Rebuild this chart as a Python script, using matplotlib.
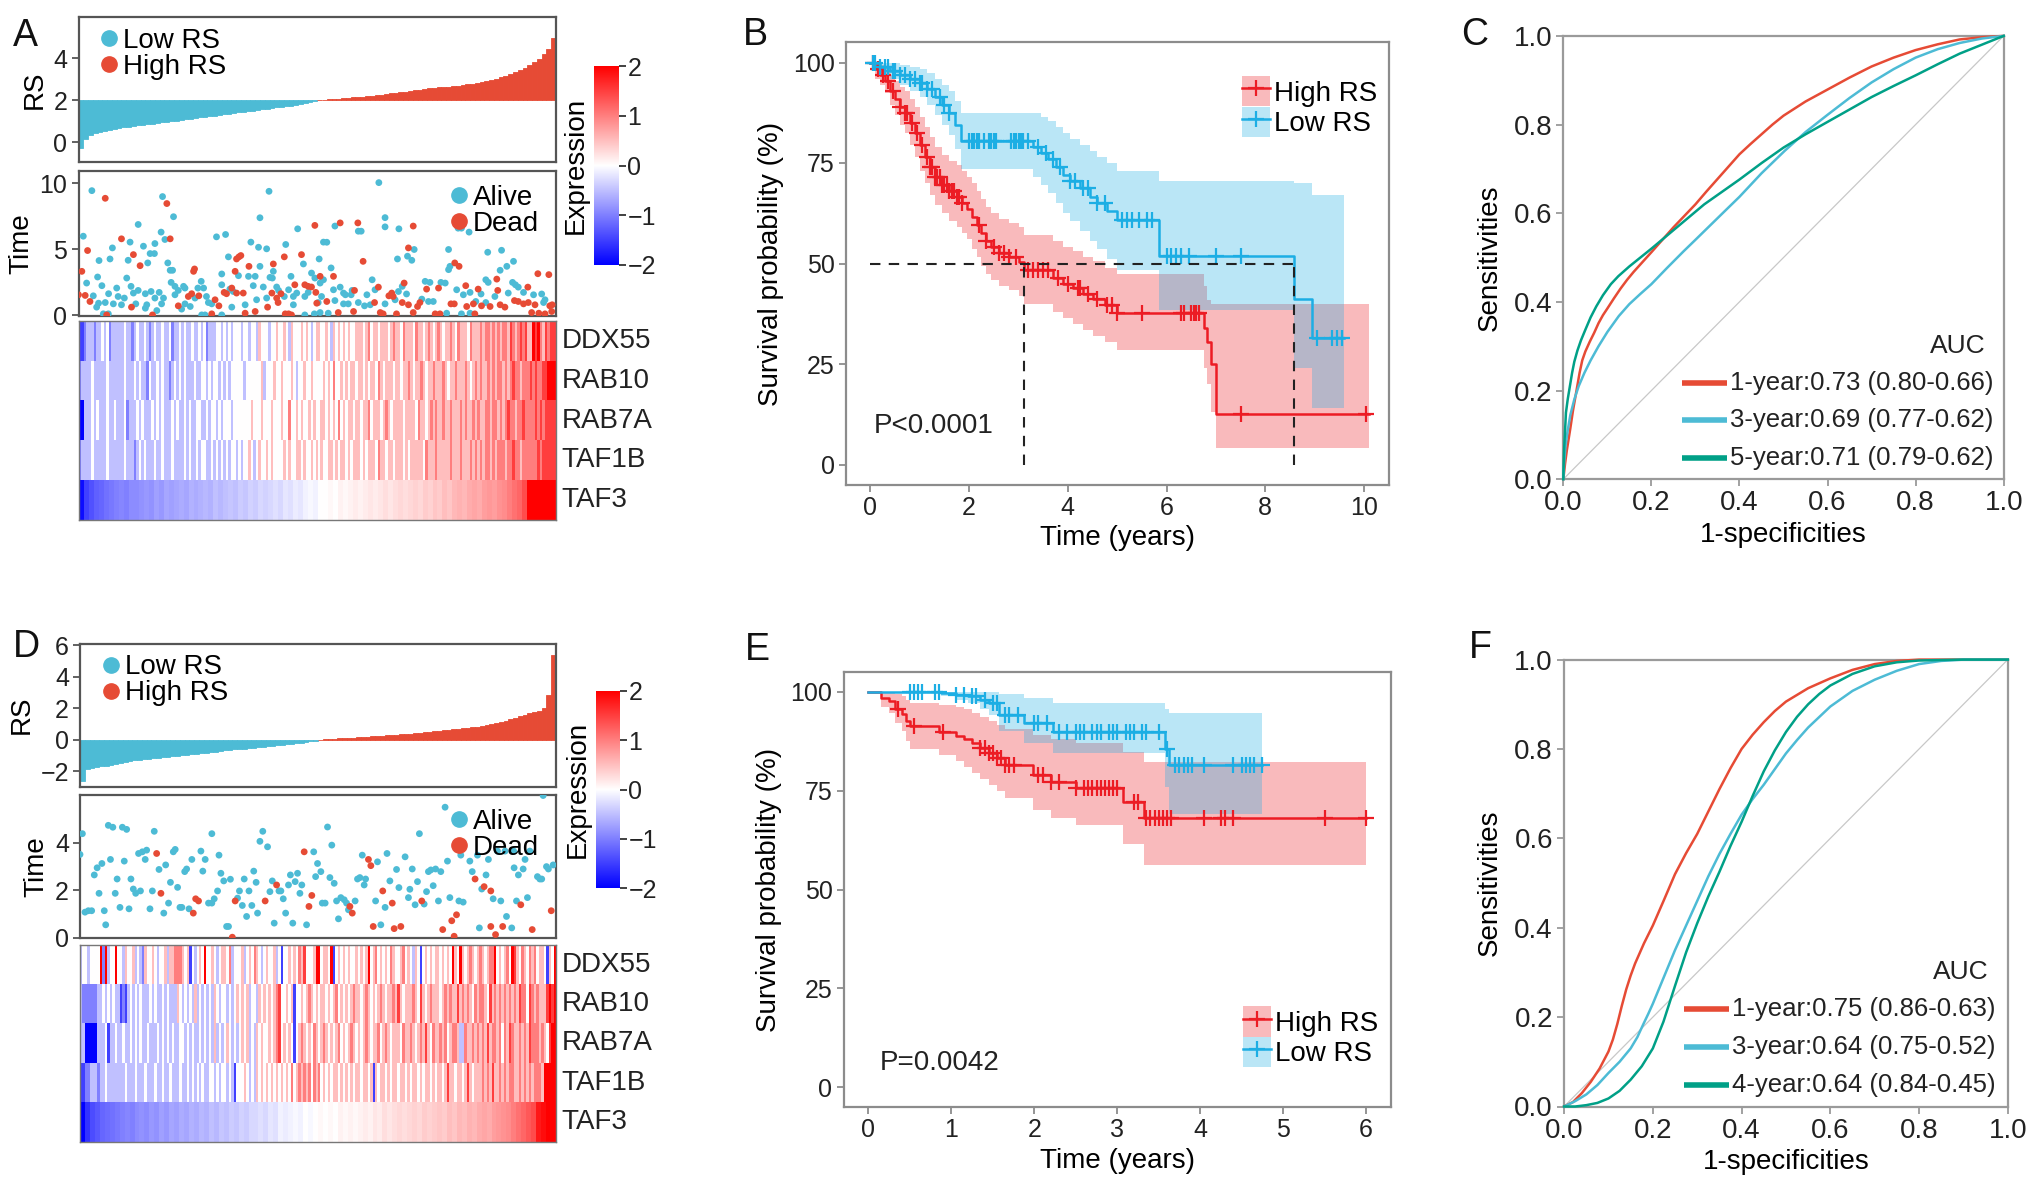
import numpy as np
import matplotlib
matplotlib.use("Agg")
import matplotlib.pyplot as plt
from matplotlib.colors import LinearSegmentedColormap
from matplotlib.patches import Patch
from matplotlib.lines import Line2D

plt.rcParams['font.family'] = ['Liberation Sans', 'DejaVu Sans']

# ======================= DATA =======================
genes = ["DDX55", "RAB10", "RAB7A", "TAF1B", "TAF3"]

# sorted risk scores (panel A: cut-off 2, panel D: cut-off 0)
rs_A = [-0.3, 0.15, 0.35, 0.45, 0.5, 0.55, 0.6, 0.63, 0.67, 0.7,
        0.73, 0.76, 0.8, 0.83, 0.86, 0.89, 0.92, 0.95, 0.98, 1.0,
        1.03, 1.06, 1.09, 1.12, 1.15, 1.18, 1.21, 1.24, 1.27, 1.3,
        1.33, 1.36, 1.39, 1.42, 1.45, 1.48, 1.51, 1.54, 1.57, 1.6,
        1.63, 1.66, 1.69, 1.72, 1.75, 1.78, 1.82, 1.86, 1.9, 1.95,
        2.0, 2.02, 2.04, 2.06, 2.08, 2.1, 2.12, 2.14, 2.16, 2.18,
        2.2, 2.22, 2.24, 2.27, 2.3, 2.33, 2.36, 2.39, 2.42, 2.45,
        2.48, 2.51, 2.54, 2.57, 2.6, 2.62, 2.64, 2.66, 2.68, 2.7,
        2.73, 2.76, 2.8, 2.84, 2.88, 2.92, 2.97, 3.03, 3.1, 3.18,
        3.26, 3.34, 3.44, 3.55, 3.68, 3.82, 3.98, 4.2, 4.45, 5.0]
rs_D = [-2.6, -1.9, -1.8, -1.75, -1.7, -1.67, -1.63, -1.58, -1.5, -1.42,
        -1.36, -1.31, -1.27, -1.24, -1.21, -1.18, -1.15, -1.12, -1.09, -1.05,
        -1.02, -0.99, -0.96, -0.93, -0.9, -0.87, -0.84, -0.81, -0.77, -0.73,
        -0.69, -0.66, -0.63, -0.6, -0.57, -0.54, -0.51, -0.48, -0.45, -0.42,
        -0.39, -0.36, -0.33, -0.3, -0.27, -0.24, -0.2, -0.16, -0.12, -0.07,
        -0.02, 0.01, 0.03, 0.05, 0.07, 0.09, 0.11, 0.13, 0.15, 0.17,
        0.19, 0.21, 0.23, 0.25, 0.27, 0.29, 0.31, 0.33, 0.35, 0.38,
        0.41, 0.44, 0.47, 0.5, 0.53, 0.56, 0.59, 0.62, 0.65, 0.68,
        0.71, 0.74, 0.78, 0.82, 0.86, 0.91, 0.97, 1.04, 1.12, 1.2,
        1.3, 1.4, 1.5, 1.58, 1.66, 1.74, 1.82, 2.0, 2.8, 5.4]

# survival status scatter: (patient rank percentile, time in years)
A_alive = [(12.5,6.88),(19.9,7.47),(38.0,7.39),(45.9,6.55),(1.0,5.99),(10.8,5.54),(17.3,6.3),(18.1,5.74),(28.9,5.94),(30.8,6.12),
           (36.1,5.54),(7.1,5.1),(13.6,5.23),(16.0,5.43),(37.7,5.15),(39.4,5.03),(43.4,5.36),(51.3,5.54),(15.0,4.67),(15.9,4.67),
           (4.3,4.14),(6.6,4.26),(10.4,4.16),(14.5,3.96),(18.7,3.96),(31.4,4.42),(47.1,3.88),(38.0,3.7),(19.2,3.4),(19.7,3.4),
           (30.0,3.12),(33.5,2.99),(40.8,3.32),(4.0,2.89),(10.1,2.81),(35.6,2.94),(37.0,2.94),(40.1,2.86),(40.6,2.81),(44.5,2.94),
           (48.8,3.19),(49.5,2.81),(1.7,2.43),(4.9,2.23),(11.0,2.18),(25.7,2.56),(19.4,2.48),(20.2,2.18),(22.0,2.18),(20.9,1.87),
           (30.0,2.3),(36.6,2.23),(38.7,2.13),(41.5,2.13),(8.0,2.05),(12.5,1.87),(15.2,1.79),(16.9,1.72),(22.3,2.05),(25.0,2.05),
           (26.2,2.05),(31.7,1.97),(32.4,1.79),(41.9,1.87),(44.0,1.92),(45.7,1.67),(48.1,1.72),(3.1,1.46),(6.3,1.62),(8.3,1.41),
           (9.6,1.29),(11.5,1.67),(14.0,1.62),(16.0,1.29),(17.8,1.29),(20.2,1.54),(24.4,1.29),(26.8,1.41),(37.3,1.16),(39.4,1.29),
           (43.1,1.41),(45.0,1.41),(47.4,1.41),(50.9,1.41),(4.2,0.9),(5.6,0.95),(7.3,0.85),(9.0,0.78),(12.0,0.85),(14.3,0.78),
           (17.4,0.85),(22.3,0.85),(23.4,0.65),(27.2,0.95),(27.9,0.85),(32.1,0.6),(34.9,0.78),(45.0,0.78),(3.8,0.6),(14.0,0.52),
           (16.4,0.34),(21.6,0.45),(25.8,0.01),(26.5,0.01),(30.0,0.01),(47.4,0.01),(49.4,0.09),(50.6,0.19),(6.25,0.09),(5.2,0.09),
           (2.8,9.45),(17.6,9.0),(39.9,9.4),(62.9,10.06),(64.2,7.4),
           (53.7,6.76),(58.6,6.37),(59.2,6.37),(64.2,6.7),(67.1,6.55),(79.5,6.6),(80.2,6.6),(81.8,6.3),(52.0,5.53),(50.4,4.26),
           (70.3,4.98),(66.8,4.26),(68.9,4.47),(69.8,4.16),(77.5,4.98),(85.7,4.77),(88.6,4.92),(91.1,4.08),(77.8,3.7),(77.5,3.45),
           (52.9,3.58),(89.7,3.7),(88.3,3.4),(51.3,2.68),(50.6,2.43),(61.5,2.68),(67.8,2.18),(62.1,1.92),(54.8,2.12),(53.4,1.92),
           (57.3,1.87),(55.5,1.67),(55.9,1.54),(57.1,1.54),(60.4,1.54),(67.0,1.79),(68.7,1.6),(72.6,2.56),(73.6,2.48),(75.9,2.48),
           (76.8,2.43),(79.2,1.92),(80.6,1.54),(82.0,1.72),(84.3,1.6),(85.3,2.68),(85.8,2.48),(87.2,1.41),(90.0,1.67),(90.9,2.48),
           (91.5,2.3),(92.1,2.12),(93.2,1.72),(95.3,1.54),(97.0,1.6),(97.7,1.16),(50.2,0.95),(53.7,1.1),(55.5,0.85),(56.5,0.85),
           (58.6,0.95),(59.9,0.7),(61.1,0.78),(64.2,0.85),(66.3,1.16),(71.9,1.21),(73.3,1.03),(74.3,1.03),(83.2,1.03),(85.3,0.95),
           (97.4,0.95),(52.3,0.14),(77.1,0.14),(80.2,0.09),(82.0,0.14)]
A_dead = [(49.5,6.81),(9.0,5.79),(19.2,5.79),(1.9,4.9),(11.5,4.59),(12.9,3.75),(33.1,4.26),(33.6,4.42),(34.0,4.52),(43.1,4.42),
          (46.7,4.59),(40.8,3.88),(35.7,3.7),(0.7,3.32),(24.3,3.5),(24.1,3.32),(32.8,3.32),(45.3,2.3),(47.4,2.3),(48.1,2.18),
          (48.8,2.13),(32.1,2.05),(34.5,1.67),(40.5,1.67),(42.4,1.62),(49.7,1.72),(0.0,1.54),(1.4,1.49),(23.0,1.41),(23.7,1.62),
          (25.2,1.46),(28.6,1.16),(31.0,1.62),(33.1,1.67),(30.5,1.72),(41.5,1.29),(2.4,1.03),(20.9,0.7),(29.4,0.7),(39.6,0.6),
          (41.8,0.95),(49.9,0.9),(11.1,0.6),(27.9,0.09),(34.9,0.14),(37.0,0.27),(43.3,0.09),(44.0,0.09),(44.6,0.01),(5.9,0.01),
          (15.5,0.01),(5.6,8.87),(18.5,8.47),
          (54.8,7.0),(58.5,7.0),(70.1,6.76),(69.1,5.1),(59.6,4.08),(78.8,3.96),(79.7,3.7),(50.6,2.94),(53.4,2.94),(68.2,2.43),
          (62.8,2.12),(57.8,1.87),(65.6,1.67),(65.0,1.46),(65.9,1.41),(72.9,1.97),(75.4,2.05),(81.1,2.23),(83.7,1.97),(87.6,2.73),
          (87.8,1.87),(94.1,2.12),(96.2,3.14),(98.5,3.07),(52.0,1.03),(62.0,0.95),(67.8,0.95),(69.1,0.78),(71.5,0.95),(78.0,0.85),
          (78.7,0.85),(81.3,0.65),(82.7,0.85),(84.4,0.7),(86.2,0.65),(88.3,0.78),(89.3,0.6),(91.3,1.1),(92.1,1.03),(93.2,0.85),
          (94.2,0.95),(95.6,0.78),(98.7,0.7),(54.4,0.19),(57.6,0.27),(63.2,0.19),(63.8,0.09),(66.6,0.09),(70.1,0.19),(71.0,0.65),
          (74.7,0.09),(75.7,0.09),(83.0,0.09),(94.9,0.19),(96.4,0.14),(97.7,0.09),(99.1,0.27),(99.2,0.78)]
D_alive = [(0.5,4.37),(0.0,3.5),(5.95,4.72),(6.9,4.64),(8.9,4.64),(9.8,4.55),(15.6,4.47),(27.7,4.37),(38.4,4.47),(37.8,4.05),
           (39.4,3.82),(12.3,3.54),(13.1,3.61),(14.0,3.68),(13.7,3.29),(19.6,3.61),(20.0,3.71),(25.4,3.64),(29.2,3.47),(26.3,3.29),
           (23.5,3.29),(49.1,3.61),(6.4,3.29),(9.3,3.22),(4.6,3.12),(3.6,2.94),(3.0,2.64),(16.6,2.87),(18.0,3.06),(22.0,2.78),
           (22.4,2.89),(25.8,2.8),(29.6,2.71),(36.5,2.8),(49.5,2.57),(50.6,2.78),(49.9,3.12),(7.8,2.47),(10.7,2.47),(19.0,2.33),
           (20.5,2.12),(30.2,2.39),(31.6,2.46),(34.5,2.47),(37.0,2.33),(40.4,2.39),(44.2,2.64),(45.7,2.71),(45.2,2.36),(43.8,2.22),
           (46.6,2.22),(4.0,1.87),(7.4,1.87),(11.2,2.05),(11.7,1.87),(12.7,1.97),(15.2,1.97),(28.9,1.97),(33.5,1.97),(35.5,1.97),
           (39.9,1.94),(41.8,1.97),(42.2,1.97),(46.2,1.87),(42.7,1.64),(33.1,1.67),(18.6,1.46),(27.0,1.46),(27.7,1.46),(28.2,1.64),
           (34.1,1.36),(36.1,1.36),(50.9,1.46),(1.05,1.08),(1.75,1.14),(2.45,1.14),(5.1,1.14),(8.4,1.28),(10.3,1.22),(14.7,1.22),
           (21.0,1.28),(21.4,1.28),(22.9,1.22),(17.6,1.04),(37.3,1.04),(35.0,0.9),(43.2,1.04),(5.4,0.55),(40.8,0.62),(44.7,0.62),
           (47.6,0.55),(30.8,0.48),(31.2,0.48),
           (97.3,5.97),(76.7,5.48),(52.0,4.65),(71.3,4.37),(52.9,3.89),(59.3,3.47),(62.5,3.19),(64.5,3.54),(68.3,3.4),(66.5,2.87),
           (69.8,2.89),(73.2,2.78),(73.7,2.85),(74.7,2.89),(75.8,2.78),(77.2,3.22),(80.0,3.47),(81.9,3.22),(83.5,3.47),(85.8,3.29),
           (87.7,3.64),(89.3,3.64),(91.1,3.64),(93.5,3.29),(94.5,3.64),(98.0,2.99),(98.4,2.89),(99.4,3.06),(91.2,2.94),(93.1,2.89),
           (92.1,2.64),(96.1,2.57),(96.6,2.47),(97.0,2.47),(82.4,2.78),(85.3,2.64),(84.4,2.05),(86.8,1.64),(88.4,1.55),(91.7,1.55),
           (94.0,1.69),(52.5,2.53),(53.4,2.29),(58.3,2.47),(58.8,2.53),(60.0,2.47),(59.7,2.22),(65.1,2.39),(67.0,2.11),(69.3,2.04),
           (70.9,2.36),(72.8,1.94),(74.2,2.19),(51.5,1.46),(53.9,1.55),(54.8,1.69),(55.5,1.6),(56.0,1.46),(57.8,1.55),(62.1,1.55),
           (64.1,1.28),(69.0,1.69),(70.4,1.39),(72.3,1.42),(75.3,1.55),(77.7,1.69),(79.6,1.55),(80.5,1.5),(56.4,1.18),(54.3,0.8),
           (89.6,0.9),(63.2,0.55),(83.9,0.42),(90.7,0.42)]
D_dead = [(16.1,3.54),(47.1,3.61),(41.3,2.22),(17.0,1.87),(48.7,1.78),(24.3,1.64),(24.9,1.55),(32.6,1.55),(38.9,1.55),(23.8,1.04),
          (48.1,1.32),(32.0,0.03),
          (60.6,3.29),(61.1,3.03),(83.0,2.47),(84.9,2.15),(86.3,1.97),(92.6,1.39),(63.6,1.97),(65.6,1.46),(71.8,1.55),(56.7,1.32),
          (57.2,1.04),(79.1,0.97),(78.1,0.72),(99.0,1.14),(61.6,0.48),(66.0,0.39),(67.4,0.48),(76.2,0.35),(78.6,0.07),(86.3,0.48),
          (87.3,0.14),(88.8,0.48),(95.0,0.35)]

# heatmap expression, 192 column bins per gene; digit d -> (d-4)/2
heat_A = {
    "DDX55": "1123332334342333" "3343323433432343" "3433423343433433" "4342333443434344"
             "4344344354443445" "4454354445454345" "5445435454545445" "5545645545554565"
             "5465554655456545" "6545565465554655" "5656656565665765" "6767558786576777",
    "RAB10": "2333343333343333" "3343334343324334" "3433234343433343" "3443434434343444"
             "4434444445344454" "4544454344544544" "4454546445454554" "5545455465455545"
             "5455654556545565" "5565455655565456" "5655656566565676" "6566676766778888",
    "RAB7A": "0033343433343343" "3342333434333434" "3433343433434334" "4334344343444344"
             "4444454445444544" "4544644545445454" "4554545464545545" "5455645554565455"
             "5545555465545656" "5565565556565565" "6556656656567665" "6676666767677777",
    "TAF1B": "2333343333343333" "3343332343433343" "3433343333434334" "3443343434343443"
             "4344543454454544" "4454544554544545" "4544554545545455" "5454555465545545"
             "5545455555465556" "5555565556555656" "5656656566656676" "6566666676777777",
}
taf3_A = [-1.9, -1.5, -1.35, -1.25, -1.2, -1.1, -1.05, -1.0, -0.95, -1.0, -0.9, -0.9, -0.85, -0.8, -0.85, -0.75,
          -0.8, -0.7, -0.75, -0.7, -0.65, -0.7, -0.6, -0.65, -0.6, -0.55, -0.6, -0.5, -0.55, -0.5, -0.45, -0.5,
          -0.4, -0.45, -0.35, -0.4, -0.3, -0.35, -0.3, -0.25, -0.3, -0.2, -0.25, -0.15, -0.2, -0.1, -0.05, -0.1,
          0.0, 0.0, 0.05, 0.0, 0.1, 0.05, 0.1, 0.15, 0.1, 0.15, 0.2, 0.15, 0.2, 0.25, 0.2, 0.25,
          0.3, 0.25, 0.3, 0.35, 0.3, 0.4, 0.35, 0.45, 0.4, 0.5, 0.45, 0.55, 0.6, 0.55, 0.65, 0.7,
          0.65, 0.75, 0.8, 0.75, 0.85, 0.9, 1.0, 1.1, 1.2, 1.4, 2.0, 2.0, 2.0, 2.0, 2.0, 2.0]
heat_D = {
    "DDX55": "3443444482834484" "4354453432544543" "4453556665451434" "5484454345546344"
             "4534546543454453" "4144545465744458" "8455481454545445" "4545845645454654"
             "4564543541454545" "5454548548545654" "5654566845456487" "5465465645541548",
    "RAB10": "3222222334343433" "1213434343334343" "3434333543434353" "4343435434434345"
             "4545344354545456" "7445451445456545" "4554545645454565" "5456545456545565"
             "7545556547545655" "5456565575656546" "5665475656565656" "5766476565557878",
    "RAB7A": "3300000333413343" "3433434343343334" "3434343344343433" "4343435343454343"
             "4545343545445456" "7454541456545465" "4565454564545654" "5456545564565455"
             "5465565456575465" "5656456653365565" "6565756656465765" "5656576665654788",
    "TAF1B": "1122333233433333" "3343334333433343" "3433433343343434" "3433443434434314"
             "4454343545454545" "4545464565656465" "6454545545454545" "5455451545545455"
             "4554545545455454" "5545755455457545" "5565657556565665" "5656565666588888",
}
taf3_D = [-2.0, -1.6, -1.4, -1.3, -1.2, -1.15, -1.1, -1.05, -1.0, -0.95, -1.0, -0.9, -0.85, -0.9, -0.8, -0.85,
          -0.75, -0.8, -0.7, -0.75, -0.65, -0.7, -0.6, -0.65, -0.55, -0.6, -0.5, -0.55, -0.45, -0.5, -0.4, -0.45,
          -0.35, -0.4, -0.3, -0.3, -0.25, -0.3, -0.2, -0.25, -0.1, -0.15, -0.1, -0.05, -0.1, 0.0, -0.05, 0.0,
          0.05, 0.0, 0.05, 0.0, 0.1, 0.05, 0.1, 0.05, 0.1, 0.15, 0.1, 0.2, 0.15, 0.25, 0.2, 0.25,
          0.3, 0.25, 0.3, 0.35, 0.3, 0.4, 0.35, 0.4, 0.45, 0.4, 0.5, 0.45, 0.55, 0.5, 0.6, 0.55,
          0.65, 0.7, 0.65, 0.75, 0.8, 0.85, 0.9, 1.0, 1.1, 1.2, 1.3, 1.4, 1.8, 1.9, 2.0, 2.0]

# Kaplan-Meier (panel B)
hiB_t = [0, 0.1, 0.2, 0.3, 0.4, 0.5, 0.6, 0.7, 0.8, 0.9, 1.0, 1.1, 1.2, 1.3, 1.45, 1.6, 1.75, 1.85, 1.95, 2.05,
         2.15, 2.25, 2.35, 2.45, 2.6, 2.8, 3.0, 3.12, 3.7, 3.9, 4.1, 4.3, 4.5, 4.75, 5.0, 6.75, 6.82, 6.9, 7.0]
hiB_s = [100, 98.5, 97, 95.5, 93, 91, 89, 87.5, 85, 82.5, 79.5, 76.5, 74, 71.5, 69.5, 68, 66.5, 65, 63.5, 61.5,
         59.5, 57.5, 55.5, 54, 52.5, 51.5, 50.3, 48.3, 46.5, 45, 43.8, 42.5, 41.2, 39.8, 37.8, 34, 30.5, 25, 12.5]
hiB_lo = [100, 96, 94.5, 92.5, 89.5, 87, 84.5, 82.5, 79.5, 76.5, 73, 70, 67, 64.5, 62.5, 60.5, 59, 57.5, 56, 53.5,
          51.5, 49.5, 47.5, 46, 44.5, 43.5, 42, 40, 38, 36.5, 35, 33.5, 32, 30.5, 28.5, 24, 20, 13, 4]
hiB_up = [100, 100, 99.5, 98.5, 97, 95.5, 94, 93, 91, 89, 86.5, 84, 81.5, 79, 77, 75.5, 74.5, 73, 71.5, 70,
          68, 66, 64, 62.5, 61, 60, 59, 57, 55.5, 54, 53, 51.5, 50.5, 49, 47.5, 44.5, 41, 40, 40]
hiB_end = 10.1
hiB_cens = [0.05, 0.15, 0.25, 0.35, 0.45, 0.6, 0.7, 0.75, 0.85, 0.95, 1.05, 1.15, 1.2, 1.25, 1.3, 1.35, 1.4, 1.45,
            1.5, 1.55, 1.6, 1.65, 1.7, 1.75, 1.8, 1.85, 2.2, 2.35, 2.5, 2.6, 2.7, 2.8, 2.95, 3.2, 3.3, 3.4, 3.5,
            3.6, 3.8, 4.0, 4.2, 4.25, 4.4, 4.6, 4.8, 4.9, 5.0, 5.5, 6.3, 6.35, 6.5, 6.55, 6.6, 6.65, 7.5, 10.05]
loB_t = [0, 0.2, 0.4, 0.6, 0.8, 1.0, 1.15, 1.3, 1.45, 1.6, 1.72, 1.83, 3.3, 3.45, 3.6, 3.75, 3.9, 4.05, 4.25,
         4.45, 4.6, 4.8, 5.0, 5.85, 8.58, 8.95]
loB_s = [100, 99, 98, 97, 96, 95, 93.5, 91.5, 89.5, 87.5, 84.5, 80.5, 79, 77.5, 76, 74, 72, 70.5, 68.8,
         66.5, 65, 63, 60.8, 51.9, 41.2, 31.4]
loB_lo = [100, 97.5, 96, 94.5, 93, 91.5, 89.5, 87, 84.5, 82, 78.5, 73.5, 71.5, 69.5, 67.5, 65, 62.5, 60.5, 58,
          55.5, 53.5, 51, 48.5, 38.5, 24, 14]
loB_up = [100, 100, 100, 99.5, 99, 98.5, 97.5, 96, 94.5, 93, 90.5, 87.5, 87.5, 86.5, 85.5, 84, 82.5, 81, 79.5,
          78, 76.5, 75, 73, 70.5, 70, 67]
loB_end = 9.6
loB_cens = [0.05, 0.1, 0.2, 0.3, 0.35, 0.45, 0.5, 0.6, 0.7, 0.8, 0.9, 1.0, 1.05, 1.15, 1.25, 1.4, 1.5, 1.6, 2.0,
            2.05, 2.1, 2.15, 2.2, 2.3, 2.4, 2.45, 2.5, 2.55, 2.85, 2.9, 2.95, 3.0, 3.05, 3.1, 3.2, 3.4, 3.55, 3.7,
            3.85, 4.05, 4.15, 4.3, 4.4, 4.6, 4.75, 5.1, 5.2, 5.3, 5.45, 5.6, 5.7, 6.0, 6.1, 6.2, 6.3, 6.45, 7.0,
            7.5, 9.05, 9.35, 9.45, 9.55]
median_hiB = 3.12
median_loB = 8.58

# Kaplan-Meier (panel E)
hiE_t = [0, 0.15, 0.25, 0.32, 0.4, 0.45, 0.5, 0.85, 1.05, 1.15, 1.25, 1.35, 1.45, 1.55, 1.65, 1.98, 2.2, 2.5, 3.07, 3.32]
hiE_s = [100, 98.5, 97.5, 95.7, 94.4, 92.5, 91.2, 89.8, 88.9, 88, 87, 85.7, 84.6, 83.3, 81.5, 78.9, 77.1, 75.7, 72.1, 68]
hiE_lo = [100, 96, 94.5, 92, 90, 87.5, 85.5, 84, 82.5, 81, 79.5, 78, 76.5, 75, 73, 70, 68, 66.2, 61.6, 56.2]
hiE_up = [100, 100, 100, 99.5, 98.8, 98, 97.2, 96.5, 96, 95.5, 94.5, 93.5, 92.5, 91.5, 90.5, 89, 88, 87, 84.8, 82.1]
hiE_end = 6.0
hiE_cens = [0.35, 0.55, 0.9, 1.35, 1.4, 1.45, 1.5, 1.55, 1.6, 1.65, 1.7, 1.75, 2.05, 2.1, 2.2, 2.3, 2.5, 2.6, 2.65,
            2.7, 2.75, 2.8, 2.85, 2.9, 2.95, 3.0, 3.2, 3.25, 3.35, 3.4, 3.45, 3.5, 3.55, 3.6, 3.65, 4.05, 4.25,
            4.3, 4.4, 5.5, 6.0]
loE_t = [0, 0.88, 1.05, 1.2, 1.35, 1.45, 1.58, 1.88, 2.23, 3.57, 3.63]
loE_s = [100, 99.6, 99.2, 98.8, 98, 97, 94, 92, 89.8, 85.5, 81.5]
loE_lo = [100, 98.8, 98, 97, 95.5, 94, 90, 87, 84.5, 76, 69]
loE_up = [100, 100, 100, 100, 100, 100, 99.5, 98.5, 97, 95.5, 94.5]
loE_end = 4.75
loE_cens = [0.5, 0.55, 0.6, 0.65, 0.8, 0.85, 1.05, 1.15, 1.25, 1.3, 1.4, 1.5, 1.55, 1.65, 1.7, 1.8, 2.0, 2.05,
            2.15, 2.3, 2.4, 2.5, 2.55, 2.6, 2.7, 2.75, 2.8, 2.9, 2.95, 3.0, 3.1, 3.15, 3.2, 3.3, 3.35, 3.5, 3.6,
            3.7, 3.75, 3.8, 3.85, 3.9, 4.05, 4.4, 4.5, 4.55, 4.6, 4.65, 4.75]

# ROC curves (panel C)
rocC_1_fpr = [0, 0.004, 0.008, 0.012, 0.016, 0.022, 0.03, 0.037, 0.043, 0.05, 0.06, 0.07, 0.08, 0.09, 0.1, 0.115,
              0.13, 0.145, 0.16, 0.18, 0.2, 0.225, 0.25, 0.275, 0.3, 0.325, 0.35, 0.375, 0.4, 0.425, 0.45, 0.475,
              0.5, 0.55, 0.6, 0.65, 0.7, 0.75, 0.8, 0.85, 0.9, 0.95, 1.0]
rocC_1_tpr = [0, 0.035, 0.065, 0.09, 0.115, 0.155, 0.2, 0.24, 0.268, 0.288, 0.31, 0.33, 0.352, 0.37, 0.385, 0.408,
              0.43, 0.45, 0.468, 0.49, 0.512, 0.54, 0.568, 0.594, 0.62, 0.649, 0.677, 0.705, 0.733, 0.756, 0.778, 0.8,
              0.82, 0.852, 0.879, 0.906, 0.931, 0.951, 0.968, 0.981, 0.992, 0.997, 1.0]
rocC_3_fpr = [0, 0.002, 0.005, 0.01, 0.016, 0.025, 0.035, 0.048, 0.062, 0.08, 0.1, 0.126, 0.15, 0.175, 0.2, 0.235,
              0.273, 0.3, 0.335, 0.37, 0.4, 0.45, 0.503, 0.55, 0.6, 0.65, 0.7, 0.75, 0.8, 0.85, 0.9, 0.95, 1.0]
rocC_3_tpr = [0, 0.04, 0.075, 0.11, 0.145, 0.18, 0.21, 0.24, 0.268, 0.3, 0.332, 0.368, 0.395, 0.418, 0.44, 0.476,
              0.514, 0.54, 0.574, 0.608, 0.637, 0.69, 0.741, 0.783, 0.822, 0.86, 0.895, 0.925, 0.951, 0.97, 0.984,
              0.994, 1.0]
rocC_5_fpr = [0, 0.001, 0.002, 0.004, 0.006, 0.01, 0.015, 0.02, 0.025, 0.032, 0.04, 0.05, 0.062, 0.075, 0.09, 0.108,
              0.125, 0.15, 0.175, 0.2, 0.23, 0.26, 0.29, 0.32, 0.36, 0.4, 0.45, 0.5, 0.55, 0.6, 0.65, 0.7, 0.75,
              0.8, 0.85, 0.9, 0.95, 1.0]
rocC_5_tpr = [0, 0.04, 0.07, 0.11, 0.15, 0.18, 0.21, 0.24, 0.265, 0.29, 0.313, 0.337, 0.365, 0.39, 0.415, 0.44,
              0.458, 0.48, 0.5, 0.52, 0.545, 0.57, 0.595, 0.62, 0.648, 0.676, 0.713, 0.748, 0.778, 0.806, 0.834,
              0.862, 0.887, 0.911, 0.936, 0.96, 0.98, 1.0]
aucC_labels = ["1-year:0.73 (0.80-0.66)", "3-year:0.69 (0.77-0.62)", "5-year:0.71 (0.79-0.62)"]

# ROC curves (panel F)
rocF_1_fpr = [0, 0.02, 0.04, 0.06, 0.08, 0.1, 0.11, 0.12, 0.13, 0.14, 0.15, 0.16, 0.18, 0.2, 0.225, 0.25, 0.275,
              0.3, 0.325, 0.35, 0.375, 0.4, 0.425, 0.45, 0.475, 0.5, 0.55, 0.6, 0.65, 0.7, 0.75, 0.8, 0.9, 1.0]
rocF_1_tpr = [0, 0.01, 0.03, 0.055, 0.085, 0.123, 0.15, 0.185, 0.225, 0.262, 0.293, 0.32, 0.365, 0.405, 0.462,
              0.52, 0.567, 0.61, 0.66, 0.71, 0.757, 0.8, 0.832, 0.86, 0.885, 0.906, 0.936, 0.958, 0.977, 0.99,
              0.997, 1.0, 1.0, 1.0]
rocF_3_fpr = [0, 0.025, 0.05, 0.075, 0.1, 0.125, 0.15, 0.165, 0.178, 0.19, 0.2, 0.225, 0.25, 0.275, 0.3, 0.325,
              0.35, 0.375, 0.4, 0.425, 0.45, 0.475, 0.5, 0.525, 0.55, 0.6, 0.65, 0.7, 0.75, 0.8, 0.85, 0.9, 1.0]
rocF_3_tpr = [0, 0.012, 0.027, 0.048, 0.075, 0.1, 0.13, 0.155, 0.183, 0.208, 0.23, 0.29, 0.35, 0.405, 0.46,
              0.515, 0.565, 0.61, 0.653, 0.688, 0.72, 0.755, 0.79, 0.82, 0.848, 0.895, 0.93, 0.955, 0.975, 0.99,
              0.997, 1.0, 1.0]
rocF_4_fpr = [0, 0.025, 0.05, 0.075, 0.1, 0.125, 0.15, 0.175, 0.2, 0.224, 0.25, 0.275, 0.3, 0.325, 0.35, 0.375,
              0.4, 0.425, 0.45, 0.475, 0.5, 0.525, 0.55, 0.575, 0.6, 0.65, 0.7, 0.75, 0.8, 0.9, 1.0]
rocF_4_tpr = [0, 0.0, 0.003, 0.008, 0.018, 0.035, 0.06, 0.09, 0.13, 0.19, 0.27, 0.345, 0.41, 0.47, 0.525, 0.583,
              0.637, 0.695, 0.75, 0.797, 0.838, 0.872, 0.9, 0.923, 0.942, 0.968, 0.985, 0.994, 0.998, 1.0, 1.0]
aucF_labels = ["1-year:0.75 (0.86-0.63)", "3-year:0.64 (0.75-0.52)", "4-year:0.64 (0.84-0.45)"]

# ======================= STYLE =======================
CYAN, RED, GREEN = "#4DBBD5", "#E64B35", "#00A087"
KM_RED, KM_BLUE = "#EC1C24", "#1CAEE4"
cmap = LinearSegmentedColormap.from_list("bwr3", ["#0000FF", "#FFFFFF", "#FF0000"])
TICK, LAB = 18, 20

W, H = 2032, 1188
fig = plt.figure(figsize=(W / 100, H / 100), dpi=100)


def ax_px(x0, y0, x1, y1):
    return fig.add_axes([x0 / W, 1 - y1 / H, (x1 - x0) / W, (y1 - y0) / H])


def style(ax, color="#555555", lw=1.6):
    for sp in ax.spines.values():
        sp.set_color(color)
        sp.set_linewidth(lw)
    ax.tick_params(colors=color, labelcolor="#222222", labelsize=TICK, length=5, width=1.3, pad=3)


def risk_panel(ax, rs, base, ylim, yticks):
    n = len(rs)
    x = (np.arange(n) + 0.5) * 100.0 / n
    cols = [CYAN if i < n // 2 else RED for i in range(n)]
    ax.bar(x, np.array(rs) - base, bottom=base, width=100.0 / n, color=cols,
           edgecolor=cols, linewidth=0.6)
    ax.set_xlim(0, 100)
    ax.set_ylim(*ylim)
    ax.set_yticks(yticks)
    ax.set_xticks([])
    ax.set_ylabel("RS", fontsize=LAB, labelpad=4)
    style(ax)
    hs = [Line2D([], [], marker='o', ls='', color=CYAN, ms=11),
          Line2D([], [], marker='o', ls='', color=RED, ms=11)]
    ax.legend(hs, ["Low RS", "High RS"], loc="upper left", bbox_to_anchor=(-0.005, 1.04),
              frameon=False, fontsize=LAB, handletextpad=-0.1, labelspacing=0.0,
              borderaxespad=0.2, handlelength=1.2)


def time_panel(ax, alive, dead, ylim, yticks):
    a = np.array(alive)
    d = np.array(dead)
    ax.scatter(a[:, 0], a[:, 1], s=24, color=CYAN, edgecolors='none', zorder=3)
    ax.scatter(d[:, 0], d[:, 1], s=24, color=RED, edgecolors='none', zorder=3)
    ax.set_xlim(0, 100)
    ax.set_ylim(*ylim)
    ax.set_yticks(yticks)
    ax.set_xticks([])
    ax.set_ylabel("Time", fontsize=LAB, labelpad=4)
    style(ax)
    hs = [Line2D([], [], marker='o', ls='', color=CYAN, ms=11),
          Line2D([], [], marker='o', ls='', color=RED, ms=11)]
    ax.legend(hs, ["Alive", "Dead"], loc="upper right", bbox_to_anchor=(1.0, 1.02),
              frameon=False, fontsize=LAB, handletextpad=-0.1, labelspacing=0.0,
              borderaxespad=0.2, handlelength=1.2)


def heat_panel(ax, rows, taf3):
    row_vals = [[(int(c) - 4) / 2.0 for c in rows[g]] for g in genes[:4]] + [list(taf3)]
    for i, vals in enumerate(row_vals):
        ax.imshow(np.array(vals)[None, :], aspect='auto', cmap=cmap, vmin=-2, vmax=2,
                  extent=(0, 100, i + 1, i), interpolation='nearest')
    ax.set_xlim(0, 100)
    ax.set_ylim(5, 0)
    ax.set_xticks([])
    ax.set_yticks([])
    style(ax, "#777777", 1.0)
    for i, g in enumerate(genes):
        ax.text(1.012, 1 - (i + 0.5) / 5, g, transform=ax.transAxes, va='center', ha='left',
                fontsize=LAB, color="#222222")


def colorbar_panel(cax):
    grad = np.linspace(-2, 2, 256).reshape(-1, 1)
    cax.imshow(grad, aspect='auto', cmap=cmap, origin='lower', extent=(0, 1, -2, 2))
    cax.set_xticks([])
    cax.set_yticks([-2, -1, 0, 1, 2])
    cax.yaxis.tick_right()
    cax.yaxis.set_label_position('left')
    cax.set_ylabel("Expression", fontsize=LAB, labelpad=4)
    for sp in cax.spines.values():
        sp.set_visible(False)
    cax.tick_params(colors="#333333", labelcolor="#222222", labelsize=TICK, length=5, width=1.3, pad=1)


def km_curve(ax, t, s, lo, up, t_end, color, cens):
    tt = list(t) + [t_end]
    ax.fill_between(tt, list(lo) + [lo[-1]], list(up) + [up[-1]], step='post',
                    color=color, alpha=0.3, lw=0)
    ax.step(tt, list(s) + [s[-1]], where='post', color=color, lw=1.8)
    idx = np.searchsorted(np.array(t), np.array(cens), side='right') - 1
    ax.plot(cens, np.array(s)[idx], ls='', marker='+', ms=11, mew=1.6, color=color)


def km_axes(ax, xlim, xticks):
    ax.set_xlim(*xlim)
    ax.set_ylim(-5, 105)
    ax.set_xticks(xticks)
    ax.set_yticks([0, 25, 50, 75, 100])
    ax.set_xlabel("Time (years)", fontsize=LAB, labelpad=4)
    ax.set_ylabel("Survival probability (%)", fontsize=LAB, labelpad=6)
    style(ax, "#8C8C8C", 1.6)


def km_legend(ax, **kw):
    hs = [(Patch(facecolor=KM_RED, alpha=0.3, lw=0), Line2D([], [], color=KM_RED, lw=1.8, marker='+', ms=11, mew=1.6)),
          (Patch(facecolor=KM_BLUE, alpha=0.3, lw=0), Line2D([], [], color=KM_BLUE, lw=1.8, marker='+', ms=11, mew=1.6))]
    ax.legend(hs, ["High RS", "Low RS"], frameon=False, fontsize=LAB, handlelength=1.0,
              handleheight=1.3, handletextpad=0.15, labelspacing=0.0, borderpad=0.0, **kw)


def roc_axes(ax, curves, labels):
    ax.plot([0, 1], [0, 1], color="#C8C8C8", lw=0.9, zorder=1)
    for (fpr, tpr), col in zip(curves, [RED, CYAN, GREEN]):
        ax.plot(fpr, tpr, color=col, lw=1.8, zorder=3, clip_on=False, solid_joinstyle='round')
    ax.set_xlim(0, 1)
    ax.set_ylim(0, 1)
    ticks = [0, 0.2, 0.4, 0.6, 0.8, 1.0]
    ax.set_xticks(ticks)
    ax.set_yticks(ticks)
    ax.set_xticklabels(["%.1f" % v for v in ticks])
    ax.set_yticklabels(["%.1f" % v for v in ticks])
    ax.set_xlabel("1-specificities", fontsize=LAB, labelpad=4)
    ax.set_ylabel("Sensitivities", fontsize=LAB, labelpad=8)
    style(ax, "#9A9A9A", 1.6)
    ax.tick_params(labelsize=LAB)
    ax.text(0.895, 0.30, "AUC", fontsize=LAB - 1, ha='center', va='center', color="#222222")
    for k, (lab, col) in enumerate(zip(labels, [RED, CYAN, GREEN])):
        yy = 0.218 - k * 0.085
        ax.plot([0.27, 0.372], [yy, yy], color=col, lw=4, solid_capstyle='butt')
        ax.text(0.378, yy, lab, fontsize=LAB - 1.5, ha='left', va='center', color="#222222")


# ======================= PANEL A =======================
risk_panel(ax_px(78.5, 17.3, 556, 162), rs_A, 2.0, (-0.95, 5.97), [0, 2, 4])
time_panel(ax_px(78.5, 171.3, 556, 315.7), A_alive, A_dead, (-0.05, 10.92), [0, 5, 10])
heat_panel(ax_px(78.5, 321, 556, 520), heat_A, taf3_A)
colorbar_panel(ax_px(594, 66, 619, 265))

# ======================= PANEL D =======================
risk_panel(ax_px(80, 643.5, 556, 786.8), rs_D, 0.0, (-3.0, 6.1), [-2, 0, 2, 4, 6])
time_panel(ax_px(80, 794.8, 556, 938.4), D_alive, D_dead, (-0.02, 6.0), [0, 2, 4])
heat_panel(ax_px(80, 945, 556, 1142), heat_D, taf3_D)
colorbar_panel(ax_px(596, 691, 620, 888))

# ======================= PANEL B =======================
axB = ax_px(845.8, 42.4, 1388.6, 484.6)
km_curve(axB, hiB_t, hiB_s, hiB_lo, hiB_up, hiB_end, KM_RED, hiB_cens)
km_curve(axB, loB_t, loB_s, loB_lo, loB_up, loB_end, KM_BLUE, loB_cens)
dash = dict(color="#222222", lw=1.5, ls=(0, (5, 4)), zorder=5)
axB.plot([0, median_loB], [50, 50], **dash)
axB.plot([median_hiB, median_hiB], [0, 50], **dash)
axB.plot([median_loB, median_loB], [0, 50], **dash)
axB.text(0.06, 9.6, "P<0.0001", fontsize=LAB, va='center', ha='left', color="#222222")
km_axes(axB, (-0.5, 10.5), [0, 2, 4, 6, 8, 10])
km_legend(axB, loc="upper left", bbox_to_anchor=(0.705, 0.955))

# ======================= PANEL E =======================
axE = ax_px(843.6, 671.8, 1390.9, 1107.2)
km_curve(axE, hiE_t, hiE_s, hiE_lo, hiE_up, hiE_end, KM_RED, hiE_cens)
km_curve(axE, loE_t, loE_s, loE_lo, loE_up, loE_end, KM_BLUE, loE_cens)
axE.text(0.14, 6.2, "P=0.0042", fontsize=LAB, va='center', ha='left', color="#222222")
km_axes(axE, (-0.3, 6.3), [0, 1, 2, 3, 4, 5, 6])
km_legend(axE, loc="lower left", bbox_to_anchor=(0.705, 0.06))

# ======================= PANEL C / F =======================
roc_axes(ax_px(1563.3, 35.9, 2003.7, 479.2),
         [(rocC_1_fpr, rocC_1_tpr), (rocC_3_fpr, rocC_3_tpr), (rocC_5_fpr, rocC_5_tpr)], aucC_labels)
roc_axes(ax_px(1564.1, 659.6, 2007.8, 1106.5),
         [(rocF_1_fpr, rocF_1_tpr), (rocF_3_fpr, rocF_3_tpr), (rocF_4_fpr, rocF_4_tpr)], aucF_labels)

# ======================= panel letters =======================
for lab, (px, py) in {"A": (13, 36), "B": (743, 35), "C": (1461, 35),
                      "D": (13, 647), "E": (745, 650), "F": (1469, 648)}.items():
    fig.text(px / W, 1 - py / H, lab, fontsize=27, ha='left', va='center', color="#111111")

fig.savefig("out.png", dpi=100, facecolor="white")
